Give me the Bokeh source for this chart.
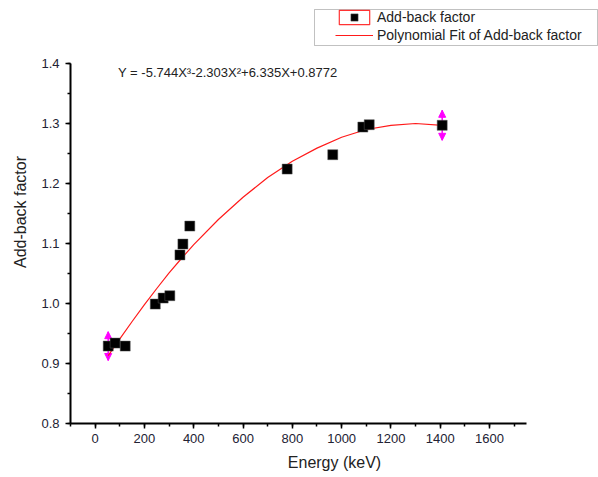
from bokeh.plotting import figure
from bokeh.models import (Range1d, Legend, LegendItem, Label, Whisker, ColumnDataSource,
                          NormalHead, BoxAnnotation, FixedTicker)
from bokeh.embed import file_html
from bokeh.resources import INLINE

# ---- data ----
energy = [53, 81, 122, 244, 276, 303, 344, 356, 384, 779, 964, 1086, 1112, 1408]
factor = [0.929, 0.934, 0.929, 0.999, 1.009, 1.013, 1.081, 1.099, 1.129, 1.224, 1.248, 1.294, 1.298, 1.297]
factor_err = [0.024, 0, 0, 0, 0, 0, 0, 0, 0, 0, 0, 0, 0, 0.025]

fit_energy = [53, 100, 150, 200, 250, 300, 350, 400, 500, 600, 700, 800, 900, 1000, 1100, 1200, 1300, 1408]
fit_factor = [0.913, 0.941, 0.970, 0.998, 1.025, 1.051, 1.075, 1.098, 1.140, 1.177, 1.210, 1.237,
              1.259, 1.277, 1.290, 1.297, 1.300, 1.297]

x_ticks = [0, 200, 400, 600, 800, 1000, 1200, 1400, 1600]
y_ticks = [0.8, 0.9, 1.0, 1.1, 1.2, 1.3, 1.4]
y_tick_labels = {0.8: "0.8", 0.9: "0.9", 1.0: "1.0", 1.1: "1.1", 1.2: "1.2", 1.3: "1.3", 1.4: "1.4"}
equation = "Y = -5.744X\u00b3-2.303X\u00b2+6.335X+0.8772"

FONT = "Liberation Sans"
TICK_COLOR = "#222233"

# axes span x: -100..1750 over 456 px, y: 0.8..1.4 over 360 px;
# the frame is extended to the top/right edges so the legend box can sit there.
X_LO, X_HI = -100, 1750
Y_LO, Y_HI = 0.8, 1.4
px_per_x = 456 / (X_HI - X_LO)
px_per_y = 360 / (Y_HI - Y_LO)

p = figure(width=598, height=477, output_backend="svg", toolbar_location=None,
           x_range=Range1d(X_LO, X_HI + 72 / px_per_x),
           y_range=Range1d(Y_LO, Y_HI + 63 / px_per_y),
           min_border_left=70, min_border_right=0, min_border_top=0, min_border_bottom=54)
p.outline_line_color = None
p.grid.visible = False
p.background_fill_color = "white"
p.border_fill_color = "white"

for ax in (p.xaxis[0], p.yaxis[0]):
    ax.axis_line_width = 2
    ax.axis_line_color = "black"
    ax.major_tick_in = 0
    ax.major_tick_out = 5
    ax.minor_tick_in = 0
    ax.minor_tick_out = 3
    ax.major_tick_line_width = 1.5
    ax.minor_tick_line_width = 1.5
    ax.major_label_text_font = FONT
    ax.major_label_text_font_size = "13px"
    ax.major_label_text_color = TICK_COLOR
    ax.axis_label_text_font = FONT
    ax.axis_label_text_font_size = "16px"
    ax.axis_label_text_font_style = "normal"
    ax.axis_label_text_color = "#222222"

p.xaxis.bounds = (X_LO, X_HI)
p.yaxis.bounds = (Y_LO, Y_HI)
p.xaxis.ticker = FixedTicker(ticks=x_ticks, minor_ticks=[-100 + 100 * i for i in range(19)])
p.yaxis.ticker = FixedTicker(ticks=y_ticks, minor_ticks=[0.8 + 0.05 * i for i in range(13)])
p.yaxis.major_label_overrides = y_tick_labels
p.xaxis.axis_label = "Energy (keV)"
p.yaxis.axis_label = "Add-back factor"
p.xaxis.major_label_standoff = 5
p.xaxis.axis_label_standoff = 8
p.yaxis.major_label_standoff = 6
p.yaxis.axis_label_standoff = 9

# error bars (magenta arrows)
eb = [(e, f, d) for e, f, d in zip(energy, factor, factor_err) if d > 0]
err_src = ColumnDataSource(dict(x=[e for e, f, d in eb],
                                upper=[f + d for e, f, d in eb],
                                lower=[f - d for e, f, d in eb]))
whisk = Whisker(source=err_src, base="x", upper="upper", lower="lower", dimension="height",
                line_color="#ff00ff", line_width=1.5, level="underlay",
                upper_head=NormalHead(size=7, fill_color="#ff00ff", line_color="#ff00ff"),
                lower_head=NormalHead(size=7, fill_color="#ff00ff", line_color="#ff00ff"))
p.add_layout(whisk)

# legend-only proxy: a zero-size red-outlined box (gives Origin's framed symbol in the legend)
proxy = p.rect(x=energy[:1], y=factor[:1], width=0, height=0, fill_alpha=0,
               line_color="#ff3333", line_width=1.2)
fit = p.line(fit_energy, fit_factor, line_color="#ff1a1a", line_width=1.2)
pts = p.scatter(energy, factor, marker="square", size=10, fill_color="black", line_color="#555555",
                line_width=0.5)

legend = Legend(items=[LegendItem(label="Add-back factor", renderers=[proxy, pts]),
                       LegendItem(label="Polynomial Fit of Add-back factor", renderers=[fit])],
                location=(265, 379), padding=0, margin=0, spacing=-2,
                glyph_width=38, glyph_height=18, label_height=18, label_standoff=4,
                label_text_font=FONT, label_text_font_size="14px", label_text_color="#222222",
                border_line_alpha=0, background_fill_alpha=0)
p.add_layout(legend, "center")

frame_box = BoxAnnotation(left=244, right=527, top=414, bottom=378,
                          left_units="screen", right_units="screen",
                          top_units="screen", bottom_units="screen",
                          fill_alpha=0, line_color="#333333", line_width=1)
p.add_layout(frame_box)

p.add_layout(Label(x=93, y=1.385, text=equation, text_font=FONT, text_font_size="13px",
                   text_color="#222222", text_baseline="middle"))

open("out.html", "w").write(file_html(p, INLINE))
